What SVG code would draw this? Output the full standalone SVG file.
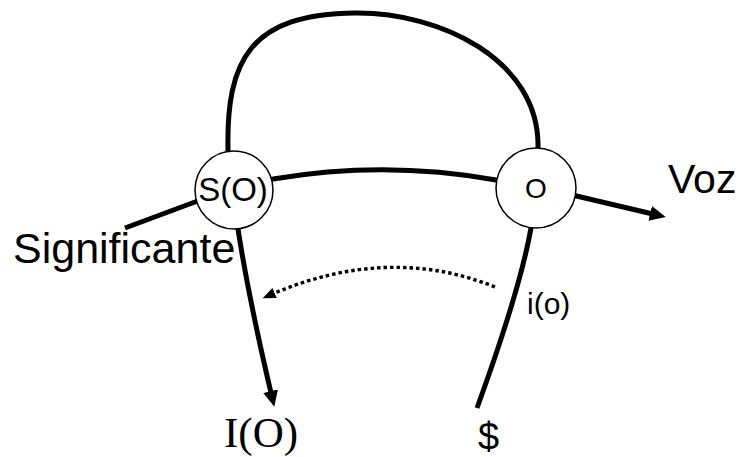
<svg xmlns="http://www.w3.org/2000/svg" width="743" height="457" viewBox="0 0 743 457">
  <style>
    .edge { fill: none; stroke: #000; stroke-width: 5; }
    .dot { fill: none; stroke: #000; stroke-width: 3.4; stroke-dasharray: 3.5 3; }
    .node { fill: #fff; stroke: #000; stroke-width: 1.5; }
    .sans { font-family: "Liberation Sans", Arial, sans-serif; fill: #000; }
    .serif { font-family: "Liberation Serif", "Times New Roman", serif; fill: #000; }
  </style>
  <defs>
    <marker id="arrow" markerUnits="userSpaceOnUse" markerWidth="16" markerHeight="15" refX="6" refY="7.5" orient="auto">
      <path d="M0,0 L16,7.5 L0,15 z" fill="#000"/>
    </marker>
    <marker id="arrowSmall" markerUnits="userSpaceOnUse" markerWidth="13" markerHeight="11" refX="5" refY="5.5" orient="auto">
      <path d="M0,0 L13,5.5 L0,11 z" fill="#000"/>
    </marker>
  </defs>
  <g id="connectors">
    <path class="edge" d="M228,160 L228,151 C226,60 250,14 355,13 C440,12 540,60 538,148 L538,156"/>
    <path class="edge" d="M265,180 L273,179 Q385,160 496,180 L504,181"/>
    <path class="edge" d="M125,228 L203,199"/>
    <path class="edge" d="M237,220 L238,229 Q249,300 272,397" marker-end="url(#arrow)"/>
    <path class="edge" d="M568,194 L656,214.7" marker-end="url(#arrow)"/>
    <path class="edge" d="M533,220 L531,228 Q520,290 477,408"/>
    <path class="dot" d="M495,287 Q388,244 270,295" marker-end="url(#arrowSmall)"/>
  </g>
  <g id="node-SO">
    <circle class="node" cx="234" cy="190" r="39"/>
    <text class="sans" x="233" y="201" font-size="33" text-anchor="middle">S(O)</text>
  </g>
  <g id="node-O">
    <circle class="node" cx="536" cy="188" r="40"/>
    <text class="sans" x="536" y="198" font-size="28" text-anchor="middle">O</text>
  </g>
  <g id="labels">
    <text class="sans" x="13" y="263" font-size="43">Significante</text>
    <text class="sans" x="668" y="193" font-size="41">Voz</text>
    <text class="sans" x="527" y="314" font-size="30">i(o)</text>
    <text class="serif" x="224" y="447" font-size="43">I(O)</text>
    <text class="sans" x="478" y="450" font-size="38">$</text>
  </g>
</svg>
